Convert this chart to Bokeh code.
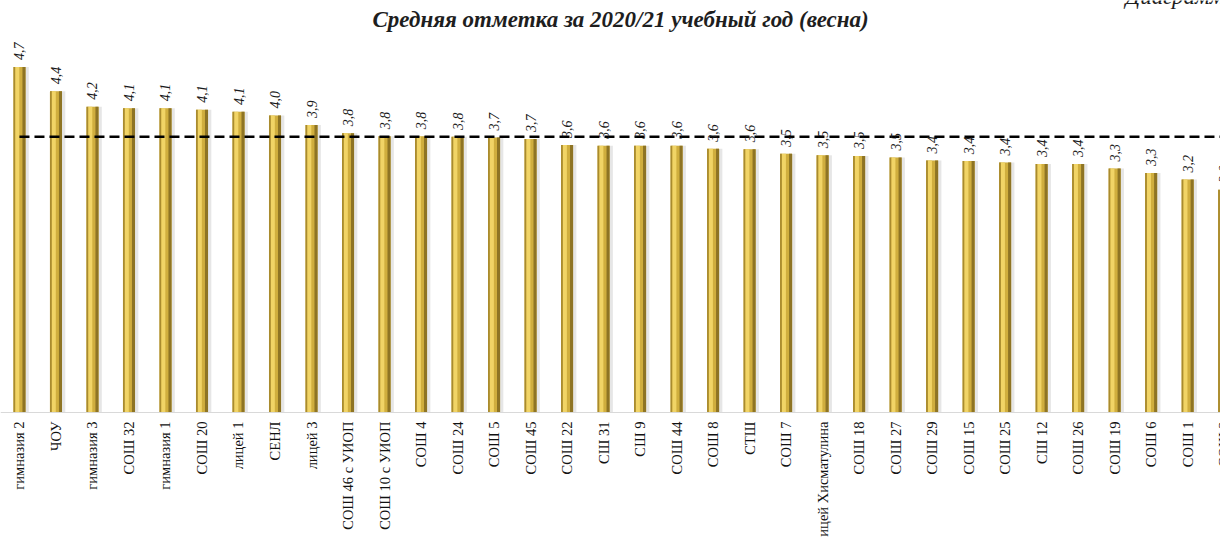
import math
from bokeh.plotting import figure
from bokeh.models import ColumnDataSource, Range1d, LabelSet, Label, Span
from bokeh.transform import dodge
from bokeh.embed import file_html
from bokeh.resources import INLINE

# ---- data ----
categories = [
    "гимназия 2", "ЧОУ", "гимназия 3", "СОШ 32", "гимназия 1", "СОШ 20", "лицей 1",
    "СЕНЛ", "лицей 3", "СОШ 46 с УИОП", "СОШ 10 с УИОП", "СОШ 4", "СОШ 24", "СОШ 5",
    "СОШ 45", "СОШ 22", "СШ 31", "СШ 9", "СОШ 44", "СОШ 8", "СТШ", "СОШ 7",
    "лицей Хисматулина", "СОШ 18", "СОШ 27", "СОШ 29", "СОШ 15", "СОШ 25", "СШ 12",
    "СОШ 26", "СОШ 19", "СОШ 6", "СОШ 1", "СОШ 3",
]
values = [
    4.70, 4.37, 4.16, 4.14, 4.14, 4.12, 4.09,
    4.04, 3.91, 3.80, 3.76, 3.76, 3.75, 3.74,
    3.72, 3.64, 3.63, 3.63, 3.63, 3.59, 3.58, 3.52,
    3.50, 3.49, 3.47, 3.43, 3.42, 3.40, 3.38,
    3.38, 3.32, 3.26, 3.17, 3.03,
]
average = 3.75
title_text = "Средняя отметка за 2020/21 учебный год (весна)"
corner_text = "Диаграмма"

value_labels = [f"{v:.1f}".replace(".", ",") for v in values]
xs = list(range(len(categories)))

source = ColumnDataSource(dict(x=xs, top=values, cat=categories, lab=value_labels))

W_PX, H_PX = 1220, 537
p = figure(
    width=W_PX, height=H_PX,
    x_range=Range1d(-0.52, 32.90), y_range=Range1d(-1.70, 5.605),
    output_backend="svg", toolbar_location=None,
    min_border_left=0, min_border_right=0, min_border_top=0, min_border_bottom=0,
)
p.xaxis.visible = False
p.yaxis.visible = False
p.xgrid.visible = False
p.ygrid.visible = False
p.outline_line_color = None
p.background_fill_color = "white"
p.border_fill_color = "white"

# title and clipped corner caption (screen units from the frame's bottom-left)
p.add_layout(Label(x=372, y=H_PX - 19, x_units="screen", y_units="screen",
                   text=title_text, text_align="left", text_baseline="alphabetic",
                   text_font="Liberation Serif", text_font_style="bold italic",
                   text_font_size="23px", text_color="#1e1e1e"))
p.add_layout(Label(x=1125, y=H_PX + 4, x_units="screen", y_units="screen",
                   text=corner_text, text_align="left", text_baseline="alphabetic",
                   text_font="Liberation Serif", text_font_style="italic",
                   text_font_size="23px", text_color="#1e1e1e"))

# baseline
p.add_layout(Span(location=0, dimension="width", line_color="#d9d9d9", line_width=1))

W = 0.33
# soft shadow
p.vbar(x=dodge("x", 0.09, range=None), top="top", bottom=0, width=W, source=source,
       fill_color="#d6d6d6", fill_alpha=0.6, line_color=None)
# cylinder bar (layered shading)
p.vbar(x="x", top="top", bottom=0, width=W, source=source, fill_color="#D0AE3E", line_color=None)
p.vbar(x=dodge("x", -0.137, range=None), top="top", bottom=0, width=0.056, source=source,
       fill_color="#A98B2E", line_color=None)
p.vbar(x=dodge("x", -0.06, range=None), top="top", bottom=0, width=0.11, source=source,
       fill_color="#F1D466", line_color=None)
p.vbar(x=dodge("x", 0.123, range=None), top="top", bottom=0, width=0.084, source=source,
       fill_color="#8E7424", line_color=None)

# average dashed line
p.line(x=[xs[0], xs[-1]], y=[average, average], line_color="black",
       line_width=2.5, line_dash="10 5")

# value labels
p.add_layout(LabelSet(x="x", y="top", text="lab", source=source, angle=math.pi / 2,
                      text_align="left", text_baseline="middle", y_offset=7,
                      text_font="Liberation Serif", text_font_style="italic",
                      text_font_size="14px", text_color="#1a1a1a"))
# category labels
p.add_layout(LabelSet(x="x", y=0, text="cat", source=source, angle=math.pi / 2,
                      text_align="right", text_baseline="middle", y_offset=-9,
                      text_font="Liberation Serif", text_font_size="14.5px",
                      text_color="#111111"))

open("out.html", "w").write(file_html(p, INLINE))
